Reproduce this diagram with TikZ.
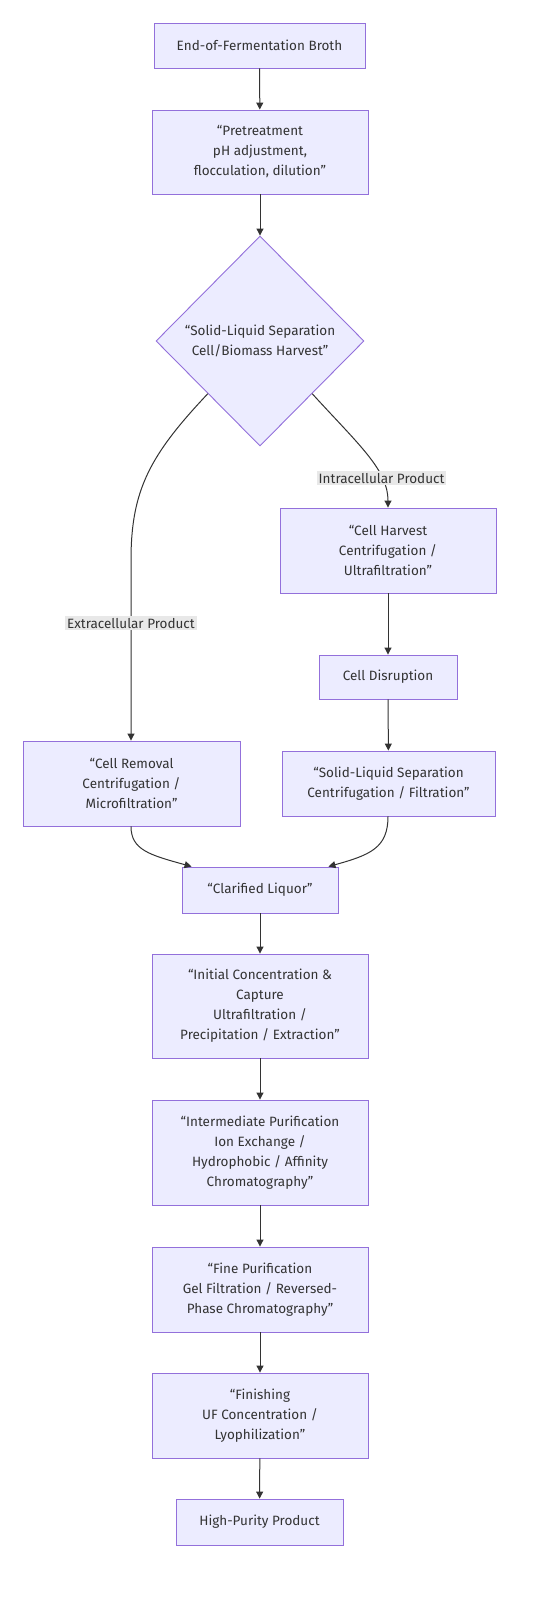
\documentclass[tikz,border=0pt]{standalone}
\usepackage{fontspec}
\setmainfont{Fira Sans}
\usepackage{tikz}
\usetikzlibrary{shapes.geometric,arrows.meta,positioning,calc}
\definecolor{boxfill}{HTML}{ECECFF}
\definecolor{boxline}{HTML}{9370DB}
\definecolor{ink}{HTML}{333333}
\definecolor{lblfill}{HTML}{E8E8E8}
\tikzstyle{stage} = [rectangle,draw=boxline,fill=boxfill,line width=0.9pt,align=center,text=ink,inner sep=0pt]
\tikzstyle{decide} = [diamond,aspect=1,draw=boxline,fill=boxfill,line width=0.9pt,align=center,text=ink,inner sep=0pt,minimum width=208pt,minimum height=210pt]
\tikzstyle{lbl} = [rectangle,fill=lblfill,text=ink,inner sep=2pt,align=center]
\tikzset{>={Triangle[length=7pt,width=7pt]}, flow/.style={draw=ink,line width=1pt,->}}

\begin{document}
\begin{tikzpicture}[x=1pt,y=-1pt,font=\fontsize{13.5}{20}\selectfont]
    \useasboundingbox (0,0) rectangle (533,1609);
    % main column
    \node [stage,minimum width=211pt,minimum height=45pt] (broth) at (259.5,45.5) {End-of-Fermentation Broth};
    \node [stage,minimum width=216pt,minimum height=84pt] (pretreat) at (260,152) {“Pretreatment\\pH adjustment,\\flocculation, dilution”};
    \node [decide] (sep) at (260,341) {“Solid-Liquid Separation\\Cell/Biomass Harvest”};

    % intracellular branch
    \node [stage,minimum width=216pt,minimum height=85pt] (harvest) at (388,550.5) {“Cell Harvest\\Centrifugation /\\ Ultrafiltration”};
    \node [stage,minimum width=138pt,minimum height=44pt] (disrupt) at (388,677) {Cell Disruption};
    \node [stage,minimum width=213pt,minimum height=65pt] (sep2) at (388.5,783.5) {“Solid-Liquid Separation\\Centrifugation / Filtration”};

    % extracellular branch
    \node [stage,minimum width=217pt,minimum height=85pt] (removal) at (131.5,783.5) {“Cell Removal\\Centrifugation /\\ Microfiltration”};

    \node [stage,minimum width=156pt,minimum height=46pt] (liquor) at (260,890) {“Clarified Liquor”};
    \node [stage,minimum width=216pt,minimum height=104pt] (capture) at (260,1006) {“Initial Concentration \&\\Capture\\Ultrafiltration /\\Precipitation / Extraction”};
    \node [stage,minimum width=216pt,minimum height=105pt] (inter) at (260,1152.5) {“Intermediate Purification\\Ion Exchange /\\Hydrophobic / Affinity\\Chromatography”};
    \node [stage,minimum width=216pt,minimum height=85pt] (fine) at (260,1289.5) {“Fine Purification\\Gel Filtration / Reversed-\\Phase Chromatography”};
    \node [stage,minimum width=216pt,minimum height=85pt] (finish) at (260,1415.5) {“Finishing\\UF Concentration /\\ Lyophilization”};
    \node [stage,minimum width=167pt,minimum height=46pt] (product) at (259.5,1522) {High-Purity Product};

    \coordinate (sepL) at ($(sep.west)!0.5!(sep.south)$);
    \coordinate (sepR) at ($(sep.east)!0.5!(sep.south)$);

    \draw [flow] (broth) -- (pretreat);
    \draw [flow] (pretreat) -- (sep);
    \draw [flow] (sepL) .. controls (150,455) and (131,490) .. (131,560) -- node [lbl,pos=0.35] {Extracellular Product} (removal.north -| 131,0);
    \draw [flow] (sepR) .. controls (360,446) and (388,470) .. node [lbl,pos=0.72] {Intracellular Product} (harvest.north);
    \draw [flow] (harvest) -- (disrupt);
    \draw [flow] (disrupt) -- (sep2);
    \draw [flow] (removal.south -| 131,0) .. controls (131,850) and (150,855) .. ($(liquor.north west)+(10,0)$);
    \draw [flow] (sep2.south -| 388,0) .. controls (388,848) and (370,855) .. ($(liquor.north east)+(-10,0)$);
    \draw [flow] (liquor) -- (capture);
    \draw [flow] (capture) -- (inter);
    \draw [flow] (inter) -- (fine);
    \draw [flow] (fine) -- (finish);
    \draw [flow] (finish) -- (product);
\end{tikzpicture}
\end{document}
